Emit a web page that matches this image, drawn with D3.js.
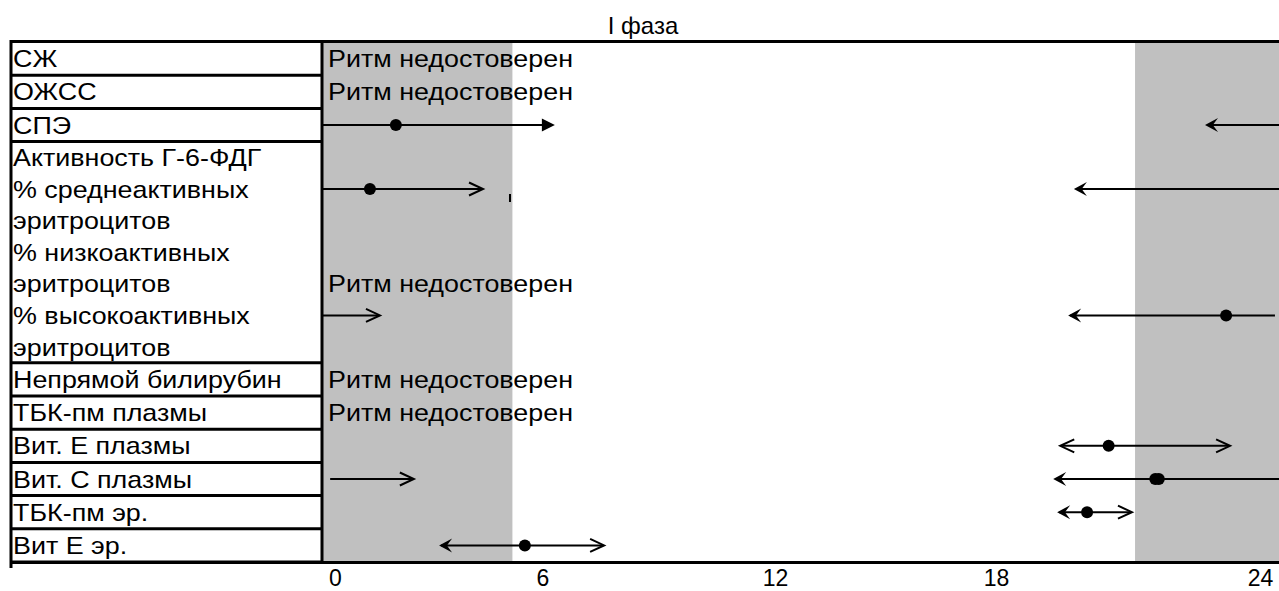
<!DOCTYPE html>
<html><head><meta charset="utf-8">
<script src="https://cdn.jsdelivr.net/npm/d3@7"></script>
<style>
html,body{margin:0;padding:0;background:#fff;}
svg{display:block;}
text{font-family:"Liberation Sans",Arial,sans-serif;fill:#000;}
</style>
</head><body>
<svg id="c" width="1279" height="591"></svg>
<script>
// ---------- DATA ----------
const title = "I фаза";
const categories = [
  "СЖ", "ОЖСС", "СПЭ",
  "Активность Г-6-ФДГ",
  "% среднеактивных эритроцитов",
  "% низкоактивных эритроцитов",
  "% высокоактивных эритроцитов",
  "Непрямой билирубин", "ТБК-пм плазмы", "Вит. Е плазмы",
  "Вит. С плазмы", "ТБК-пм эр.", "Вит Е эр."
];
const groupedCategories = ["Активность Г-6-ФДГ", "% среднеактивных эритроцитов",
  "% низкоактивных эритроцитов", "% высокоактивных эритроцитов"];
const unreliableText = "Ритм недостоверен";
const unreliable = [true, true, false, false, false, true, false, true, true, false, false, false, false];
// acrophase (h); Vit C plasma shows two overlapping points
const acrophase = [null, null, [1.76], null, [1.01], null, [23.23], null, null, [20.56], [21.62, 21.70], [20.07], [5.49]];
const ciLow  = [null, null, 22.75, null, 19.77, null, 19.64, null, null, 19.46, 19.30, 19.39, 3.01];
const ciHigh = [null, null, 6.32,  null, 4.28,  null, 1.30,  null, null, 23.32, 2.28,  21.09, 7.59];
// where wrapped intervals start / stop at the chart borders (null = border itself)
const wrapLeftStart = [null, null, null, null, null, null, null, null, null, null, -0.14, null, null];
const wrapRightEnd  = [null, null, null, null, null, null, 24.34, null, null, null, null, null, null];
const strayMarkHour = 5.06, strayMarkCategory = "% среднеактивных эритроцитов";
const nightStart = 21.16, nightEnd = 5.13;
const tickValues = [0, 6, 12, 18, 24];
const tickLabels = ["0", "6", "12", "18", "24"];

// ---------- STYLE ----------
const headStyle = {
  "СПЭ": ["stealth", "triangle"],
  "% среднеактивных эритроцитов": ["stealth", "open"],
  "% высокоактивных эритроцитов": ["stealth", "open"],
  "Вит. Е плазмы": ["open", "open"],
  "Вит. С плазмы": ["stealth", "open"],
  "ТБК-пм эр.": ["stealth", "open"],
  "Вит Е эр.": ["stealth", "open"]
};
const FS = 24, STRETCH = 1.12;

// ---------- LAYOUT ----------
const svg = d3.select("#c");
const W = 1279, H = 591;
const colLeft = 10, colRight = 322, plotLeft = 323, plotRight = W;
const topY = 42, rowH = 33.2, lineH = 31.6;

const x = d3.scaleLinear().domain(tickValues).range([335, 542.5, 775, 996, 1260]);

function labelLines(c) {
  if (c.startsWith("%")) { const p = c.split(" "); return [p.slice(0, 2).join(" "), p.slice(2).join(" ")]; }
  return [c];
}
let yCursor = topY;
const rows = [];
const boxes = [];
let groupBox = null;
categories.forEach((c, i) => {
  const inGroup = groupedCategories.includes(c);
  const lines = labelLines(c);
  const h = inGroup ? lineH : rowH;
  const lineYs = lines.map((_, k) => yCursor + h * (k + 0.5));
  rows.push({c, i, lines, lineYs});
  if (inGroup) {
    if (!groupBox) { groupBox = {y0: yCursor, y1: 0}; boxes.push(groupBox); }
    groupBox.y1 = yCursor + h * lines.length;
  } else {
    boxes.push({y0: yCursor, y1: yCursor + h});
  }
  yCursor += h * lines.length;
});
const bottomY = yCursor;

// night shading
const shade = svg.append("g");
shade.append("rect").attr("x", plotLeft).attr("y", topY).attr("width", x(nightEnd) - plotLeft)
  .attr("height", bottomY - topY).attr("fill", "#c0c0c0");
shade.append("rect").attr("x", x(nightStart)).attr("y", topY).attr("width", plotRight - x(nightStart))
  .attr("height", bottomY - topY).attr("fill", "#c0c0c0");

// frame
const frame = svg.append("g").attr("stroke", "#000").attr("stroke-width", 3).attr("fill", "none");
frame.append("line").attr("x1", colLeft).attr("x2", W).attr("y1", topY - 0.5).attr("y2", topY - 0.5);
frame.append("line").attr("x1", colLeft).attr("x2", W).attr("y1", bottomY + 0.5).attr("y2", bottomY + 0.5);
frame.append("line").attr("x1", colLeft + 1).attr("x2", colLeft + 1).attr("y1", topY - 2).attr("y2", bottomY + 6);
frame.append("line").attr("x1", colRight).attr("x2", colRight).attr("y1", topY - 2).attr("y2", bottomY + 2);
boxes.forEach(b => {
  frame.append("line").attr("x1", colLeft).attr("x2", colRight).attr("y1", b.y1).attr("y2", b.y1);
});

function stext(g, str, tx, ty) {
  return g.append("text").attr("transform", `translate(${tx},${ty}) scale(${STRETCH},1)`)
    .attr("font-size", FS).text(str);
}
const capHalf = FS * 0.716 / 2;

const lab = svg.append("g");
rows.forEach(r => r.lines.forEach((l, k) => stext(lab, l, 13, r.lineYs[k] + capHalf)));

const notes = svg.append("g");
rows.forEach(r => {
  if (unreliable[r.i]) stext(notes, unreliableText, 328, r.lineYs[r.lineYs.length - 1] + capHalf);
});

function head(g, xt, y, dir, type) {
  if (type === "open") {
    const L = 14, h = 6.5;
    g.append("path").attr("d", `M${xt - dir * L},${y - h}L${xt},${y}L${xt - dir * L},${y + h}`)
      .attr("fill", "none").attr("stroke", "#000").attr("stroke-width", 2);
  } else if (type === "stealth") {
    const L = 13, h = 7;
    g.append("path").attr("d", `M${xt},${y}L${xt - dir * L},${y - h}L${xt - dir * L * 0.6},${y}L${xt - dir * L},${y + h}Z`)
      .attr("fill", "#000");
  } else {
    const L = 13, h = 6.5;
    g.append("path").attr("d", `M${xt},${y}L${xt - dir * L},${y - h}L${xt - dir * L},${y + h}Z`)
      .attr("fill", "#000");
  }
}

const marks = svg.append("g");
rows.forEach(r => {
  const i = r.i;
  if (ciLow[i] == null) return;
  const y = r.lineYs[0];
  const [lowType, highType] = headStyle[r.c];
  const seg = (a, b) => marks.append("line").attr("x1", a).attr("x2", b).attr("y1", y).attr("y2", y)
    .attr("stroke", "#000").attr("stroke-width", 2);
  if (ciLow[i] <= ciHigh[i]) {
    seg(x(ciLow[i]) + 2, x(ciHigh[i]) - 2);
  } else {
    seg(x(ciLow[i]) + 2, wrapRightEnd[i] == null ? plotRight : x(wrapRightEnd[i]));
    seg(wrapLeftStart[i] == null ? plotLeft : x(wrapLeftStart[i]), x(ciHigh[i]) - 2);
  }
  head(marks, x(ciLow[i]), y, -1, lowType);
  head(marks, x(ciHigh[i]), y, 1, highType);
  (acrophase[i] || []).forEach(a => {
    marks.append("circle").attr("cx", x(a)).attr("cy", y).attr("r", 6).attr("fill", "#000");
  });
  if (r.c === strayMarkCategory) {
    marks.append("line").attr("x1", x(strayMarkHour)).attr("x2", x(strayMarkHour))
      .attr("y1", y + 5).attr("y2", y + 13).attr("stroke", "#000").attr("stroke-width", 2);
  }
});

svg.append("text").attr("x", 643).attr("y", 34).attr("text-anchor", "middle")
  .attr("font-size", FS).text(title);

const axis = svg.append("g").attr("transform", `translate(0,${bottomY + 1})`)
  .call(d3.axisBottom(x).tickValues(tickValues).tickFormat((d, k) => tickLabels[k]).tickSize(0).tickPadding(7));
axis.select(".domain").remove();
axis.selectAll("text").attr("font-size", 23).attr("font-family", '"Liberation Sans",Arial,sans-serif').attr("fill", "#000");
</script>
</body></html>
